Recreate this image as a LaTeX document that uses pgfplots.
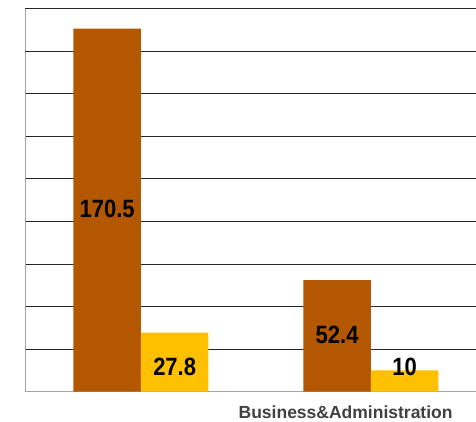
\documentclass[border=0pt]{standalone}
\usepackage{pgfplots}
\pgfplotsset{compat=1.18}
\usepackage{fontspec}
\setmainfont{Liberation Sans}
\newfontfamily\narrowfont[FakeStretch=0.88]{Liberation Sans}
\definecolor{brn}{RGB}{179,87,0}
\definecolor{ylw}{RGB}{255,192,0}
\begin{document}
\begin{tikzpicture}[x=1pt,y=1pt]
\useasboundingbox (0,0) rectangle (476,421);
\begin{axis}[
  at={(25pt,29.3pt)}, anchor=south west,
  scale only axis, width=451pt, height=383.2pt,
  xmin=-0.504, xmax=1.457, ymin=0, ymax=180,
  axis x line*=bottom, axis y line*=left,
  axis line style={draw={rgb,255:red,165;green,165;blue,165}, line width=0.9pt},
  ybar=0pt, bar width=67.5pt,
  ytick={20,40,...,140}, yticklabels={},
  extra y ticks={160,180}, extra y tick labels={},
  extra y tick style={grid style={draw={rgb,255:red,170;green,170;blue,170}, line width=0.9pt}},
  ymajorgrids, major grid style={draw=black!85, line width=0.9pt},
  major tick length=0pt,
  xtick={0.89}, xticklabels={Business\&Administration},
  xticklabel style={anchor=base, inner sep=0pt, yshift=-26.8pt, font=\bfseries\fontsize{17.5}{18}\selectfont, text=black!75},
  point meta=explicit symbolic,
  nodes near coords,
  visualization depends on=rawy \as \rawy,
  every node near coord/.append style={font=\narrowfont\bfseries\fontsize{25}{25}\selectfont, text=black, anchor=center, inner sep=0pt},
]
\addplot[fill=brn, draw=none, every node near coord/.append style={yshift=-\rawy*1.0644pt+1pt}]
  coordinates {(0,170.5) [170.5] (1,52.4) [52.4]};
\addplot[fill=ylw, draw=none, every node near coord/.append style={yshift=-\rawy*2.1289pt+25pt}]
  coordinates {(0,27.8) [27.8] (1,10) [10]};
\end{axis}
\end{tikzpicture}
\end{document}
